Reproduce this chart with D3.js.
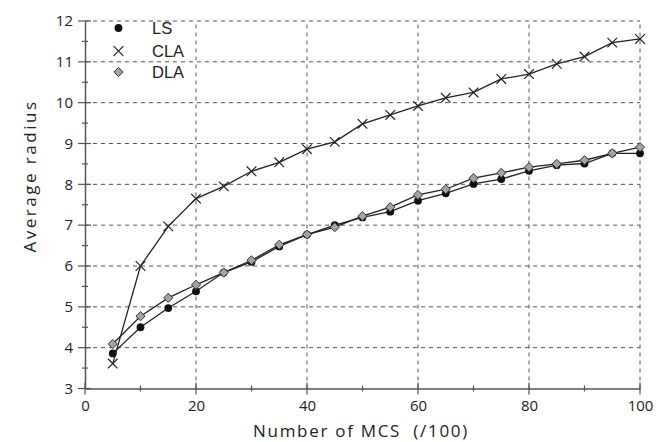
<!DOCTYPE html>
<html><head><meta charset="utf-8">
<script src="https://cdn.jsdelivr.net/npm/d3@7"></script>
<style>body{margin:0;background:#fff}svg{display:block}</style>
</head><body><svg id="c" width="669" height="442"></svg>
<script>
const mcs = [5,10,15,20,25,30,35,40,45,50,55,60,65,70,75,80,85,90,95,100];
const ls  = [3.86,4.50,4.97,5.38,5.84,6.10,6.48,6.77,7.00,7.19,7.33,7.60,7.78,8.01,8.13,8.33,8.47,8.51,8.76,8.76];
const cla = [3.61,6.00,6.97,7.65,7.95,8.32,8.54,8.86,9.04,9.48,9.70,9.92,10.12,10.25,10.58,10.70,10.95,11.13,11.47,11.56];
const dla = [4.09,4.77,5.22,5.54,5.84,6.14,6.52,6.77,6.95,7.22,7.44,7.74,7.88,8.15,8.28,8.42,8.50,8.59,8.76,8.91];
const xTicks = [0,20,40,60,80,100];
const yTicks = [3,4,5,6,7,8,9,10,11,12];
const legendNames = ["LS","CLA","DLA"];

const svg = d3.select("#c");
const x = d3.scaleLinear().domain([0,100]).range([85,640]);
const y = d3.scaleLinear().domain([3,12]).range([388.5,21]);
const axisColor = "#555";
const font = "'Open Sans', sans-serif";

// grid
const g = svg.append("g");
g.selectAll(".hg").data(yTicks.filter(d=>d>3)).enter().append("line")
  .attr("x1",x(0)).attr("x2",x(100)).attr("y1",d=>y(d)).attr("y2",d=>y(d))
  .attr("stroke","#555").attr("stroke-width",1).attr("stroke-dasharray","4,4");
g.selectAll(".vg").data(xTicks.filter(d=>d>0)).enter().append("line")
  .attr("x1",d=>x(d)).attr("x2",d=>x(d)).attr("y1",y(3)).attr("y2",y(12))
  .attr("stroke","#555").attr("stroke-width",1).attr("stroke-dasharray","4,4");

// axes
const xAxis = d3.axisBottom(x).tickValues(xTicks).tickSize(0).tickPadding(12);
const gx = svg.append("g").attr("transform",`translate(0,${y(3)})`).call(xAxis);
gx.select(".domain").attr("stroke",axisColor).attr("stroke-width",1.5);
gx.selectAll("text").attr("font-family",font).attr("font-size",15).attr("fill","#222");
const yAxis = d3.axisLeft(y).tickValues(yTicks).tickSize(0).tickPadding(12);
const gy = svg.append("g").attr("transform",`translate(${x(0)},0)`).call(yAxis);
gy.select(".domain").attr("stroke",axisColor).attr("stroke-width",1.5);
gy.selectAll("text").attr("font-family",font).attr("font-size",15).attr("fill","#222");

// tick marks (crossing)
const xMaj = xTicks, xMin = [10,30,50,70,90];
svg.selectAll(".xmaj").data(xMaj).enter().append("line")
  .attr("x1",d=>x(d)).attr("x2",d=>x(d)).attr("y1",y(3)-6).attr("y2",y(3)+6)
  .attr("stroke",axisColor).attr("stroke-width",1.2);
svg.selectAll(".xmin").data(xMin).enter().append("line")
  .attr("x1",d=>x(d)).attr("x2",d=>x(d)).attr("y1",y(3)-3).attr("y2",y(3)+3)
  .attr("stroke",axisColor).attr("stroke-width",1.2);
const yMin = d3.range(3.5,12,1);
svg.selectAll(".ymaj").data(yTicks).enter().append("line")
  .attr("x1",x(0)-7).attr("x2",x(0)+6).attr("y1",d=>y(d)).attr("y2",d=>y(d))
  .attr("stroke",axisColor).attr("stroke-width",1.2);
svg.selectAll(".ymin").data(yMin).enter().append("line")
  .attr("x1",x(0)-3).attr("x2",x(0)+3).attr("y1",d=>y(d)).attr("y2",d=>y(d))
  .attr("stroke",axisColor).attr("stroke-width",1.2);

// titles
svg.append("text").attr("x",361).attr("y",437).attr("text-anchor","middle")
  .attr("font-family",font).attr("font-size",17).attr("letter-spacing","1.7px").attr("fill","#222").attr("xml:space","preserve")
  .text("Number of MCS  (/100)");
svg.append("text").attr("transform","translate(36,176) rotate(-90)").attr("text-anchor","middle")
  .attr("font-family",font).attr("font-size",17).attr("letter-spacing","2.5px").attr("fill","#222").text("Average radius");

// series
const line = d3.line().x(d=>x(d[0])).y(d=>y(d[1]));
const series = [
  {name:"LS", vals:ls, type:"circle"},
  {name:"CLA", vals:cla, type:"cross"},
  {name:"DLA", vals:dla, type:"diamond"}
];
function marker(sel, type){
  if(type==="circle"){
    sel.append("circle").attr("r",3.9).attr("fill","#111");
  } else if(type==="cross"){
    sel.append("path").attr("d","M-4.8,-4.8L4.8,4.8M-4.8,4.8L4.8,-4.8").attr("stroke","#222").attr("stroke-width",1.2).attr("fill","none");
  } else {
    sel.append("path").attr("d","M0,-4.6L4.6,0L0,4.6L-4.6,0Z").attr("fill","#a3a3a3").attr("stroke","#333").attr("stroke-width",1);
  }
}
series.forEach(s=>{
  const pts = mcs.map((m,i)=>[m,s.vals[i]]);
  svg.append("path").datum(pts).attr("d",line).attr("fill","none").attr("stroke","#222").attr("stroke-width",1.3);
});
series.forEach(s=>{
  const pts = mcs.map((m,i)=>[m,s.vals[i]]);
  svg.selectAll(null).data(pts).enter().append("g")
    .attr("transform",d=>`translate(${x(d[0])},${y(d[1])})`)
    .each(function(){ marker(d3.select(this), s.type); });
});

// legend
const legY = [28,51,72];
series.forEach((s,i)=>{
  const lg = svg.append("g").attr("transform",`translate(118.5,${legY[i]})`);
  marker(lg, s.type);
  svg.append("text").attr("x",152).attr("y",legY[i]).attr("dy","0.36em")
    .attr("font-family","'Liberation Sans', Arial, sans-serif").attr("font-size",16.5).attr("fill","#222").text(legendNames[i]);
});
</script></body></html>
